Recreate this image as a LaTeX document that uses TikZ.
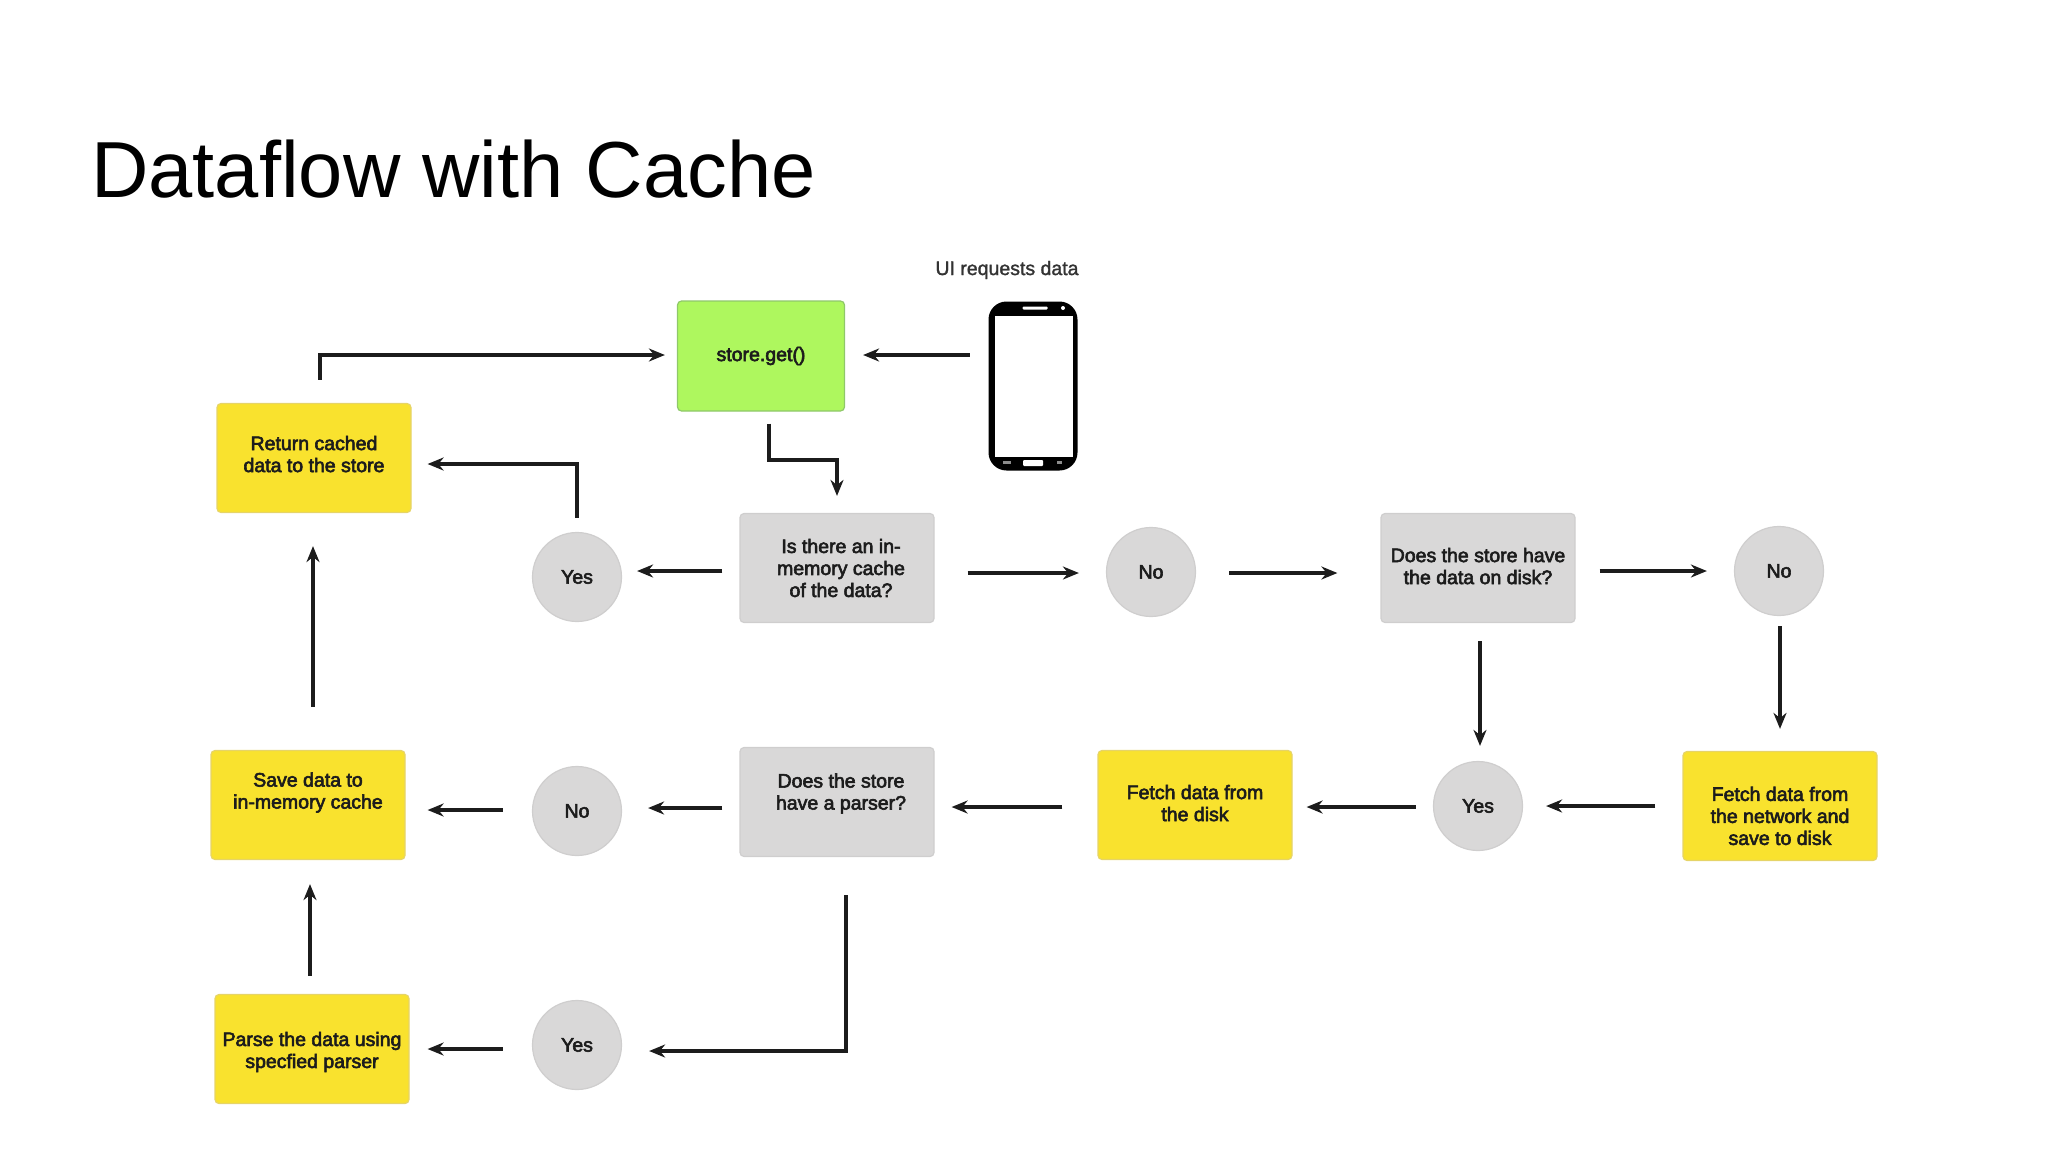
\documentclass[tikz,border=0pt]{standalone}
\usepackage{fontspec}
\setmainfont{Liberation Sans}
\usetikzlibrary{arrows.meta,calc}
\newcommand\padb[1]{\\[#1pt]\mbox{}}
\newcommand\padt[1]{\mbox{}\\[#1pt]}
\newcommand\ind{\hspace*{8pt}}
\definecolor{ylw}{HTML}{F9E22E}
\definecolor{ylwb}{HTML}{E6D468}
\definecolor{grn}{HTML}{AEF75E}
\definecolor{grnb}{HTML}{8FC86A}
\definecolor{gry}{HTML}{D9D8D8}
\definecolor{gryb}{HTML}{CFCECE}
\definecolor{ink}{HTML}{1C1C1C}
\newfontfamily\boldish[FakeBold=3]{Liberation Sans}
\newfontfamily\semibold[FakeBold=1.5]{Liberation Sans}
\tikzset{
  x=1pt,y=-1pt,
  lbl/.style={font=\fontsize{19.5}{22}\selectfont\boldish,text=ink,align=center,inner sep=0pt},
  boxbase/.style={lbl,rectangle,rounded corners=4pt,line width=1.2pt,minimum width=194pt,minimum height=109pt},
  ybox/.style={boxbase,fill=ylw,draw=ylwb},
  gbox/.style={boxbase,fill=gry,draw=gryb},
  greenbox/.style={boxbase,fill=grn,draw=grnb,minimum width=167pt,minimum height=110pt},
  dot/.style={lbl,circle,fill=gry,draw=gryb,line width=1.2pt,minimum size=89pt},
  arr/.style={draw=ink,line width=3.4pt,-{Stealth[length=16pt,width=13pt]}},
  arrthin/.style={arr,line width=3.2pt},
  phonepart/.style={inner sep=0pt,rectangle}
}
\begin{document}
\begin{tikzpicture}
\useasboundingbox (0,0) rectangle (2048,1152);
\node[anchor=base west,inner sep=0pt,font=\fontsize{79.5}{90}\selectfont] (title) at (91,197) {Dataflow with Cache};
\node[lbl,font=\fontsize{19.5}{22}\selectfont\semibold,text=black!80] (ui) at (1007,270) {UI requests data};

\node[greenbox] (store) at (761,356) {store.get()\padb{-18}};
\node[ybox] (ret) at (314,458) {Return cached\\data to the store\padb{-14}};
\node[gbox] (mem) at (837,568) {\ind Is there an in-\\\ind memory cache\\\ind of the data?};
\node[dot] (yes1) at (577,577) {Yes};
\node[dot] (no1) at (1151,572) {No};
\node[gbox] (disk) at (1478,568) {Does the store have\\the data on disk?\padb{-18}};
\node[dot] (no2) at (1779,571) {No};
\node[ybox] (net) at (1780,806) {\padt{12}Fetch data from\\the network and\\save to disk};
\node[dot] (yes2) at (1478,806) {Yes};
\node[ybox] (fdisk) at (1195,805) {Fetch data from\\the disk\padb{-18}};
\node[gbox] (parser) at (837,802) {\ind Does the store\\\ind have a parser?\padb{-1}};
\node[dot] (no3) at (577,811) {No};
\node[ybox] (save) at (308,805) {Save data to\\in-memory cache\padb{7}};
\node[ybox] (parse) at (312,1049) {\padt{-2}Parse the data using\\specfied parser};
\node[dot] (yes3) at (577,1045) {Yes};

% phone
\node[phonepart,fill=black,rounded corners=18pt,minimum width=89pt,minimum height=169pt] (phone) at (1033,386) {};
\node[phonepart,fill=white,minimum width=78pt,minimum height=141pt] (screen) at (1034,386.5) {};
\node[phonepart,fill=white,rounded corners=1pt,minimum width=25pt,minimum height=3pt] (speaker) at (1035,308) {};
\node[phonepart,circle,fill=white,minimum size=4pt] (cam) at (1063,308) {};
\node[phonepart,fill=white,rounded corners=1pt,minimum width=20pt,minimum height=6pt] (home) at (1033,463) {};
\node[phonepart,fill=black!45,minimum width=8pt,minimum height=3pt] (bl) at (1007,462) {};
\node[phonepart,fill=black!45,minimum width=5pt,minimum height=3pt] (br) at (1059,462) {};

% connectors
\draw[arr] ($(phone.west)+(-18.5,-31)$) -- ($(store.east)+(18,-1)$);
\draw[arr] ($(ret.north)+(6,-23)$) |- ($(store.west)+(-12,-1)$);
\draw[arr] ($(store.south)+(8,12)$) |- ($(mem.north)+(0,-53)$) -- ($(mem.north)+(0,-17)$);
\draw[arr] ($(mem.west)+(-17,3)$) -- ($(yes1.east)+(15,-6)$);
\draw[arr] ($(yes1.north)+(0,-14)$) |- ($(ret.east)+(16,6)$);
\draw[arr] ($(mem.east)+(33,5)$) -- ($(no1.west)+(-27,1)$);
\draw[arr] ($(no1.east)+(33,1)$) -- ($(disk.west)+(-43,5)$);
\draw[arr] ($(disk.east)+(24,3)$) -- ($(no2.west)+(-27,0)$);
\draw[arr] ($(no2.south)+(1,10)$) -- ($(net.north)+(0,-22)$);
\draw[arr] ($(disk.south)+(2,18)$) -- ($(yes2.north)+(2,-15)$);
\draw[arr] ($(net.west)+(-27,0)$) -- ($(yes2.east)+(23,0)$);
\draw[arr] ($(yes2.west)+(-17,1)$) -- ($(fdisk.east)+(14,2)$);
\draw[arr] ($(fdisk.west)+(-35,2)$) -- ($(parser.east)+(17,5)$);
\draw[arr] ($(parser.west)+(-17,6)$) -- ($(no3.east)+(26,-3)$);
\draw[arr] ($(no3.west)+(-29,-1)$) -- ($(save.east)+(22,5)$);
\draw[arr] ($(parser.south)+(9,38)$) |- ($(yes3.east)+(27,6)$);
\draw[arr] ($(yes3.west)+(-29,4)$) -- ($(parse.east)+(18,0)$);
\draw[arrthin] ($(parse.north)+(-2,-18)$) -- ($(save.south)+(2,24)$);
\draw[arrthin] ($(save.north)+(5,-43)$) -- ($(ret.south)+(-1,33)$);
\end{tikzpicture}
\end{document}
